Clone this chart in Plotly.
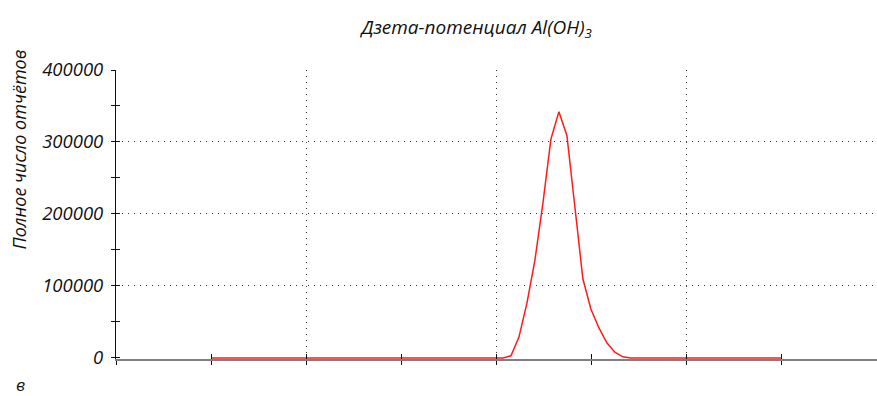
import plotly.graph_objects as go

# Data (zeta potential, mV; total counts)
zeta_mv = [-150, 3.4, 7.6, 11.8, 16.0, 20.2, 24.4, 28.6, 32.8, 37.0, 41.2,
           45.4, 49.6, 53.8, 58.0, 62.2, 66.4, 70.6, 150]
counts = [0, 0, 3000, 29000, 76000, 136000, 215000, 304000, 342000, 309000,
          210000, 110000, 68000, 42000, 21000, 8000, 1500, 0, 0]

y_ticks = [0, 100000, 200000, 300000, 400000]
y_tick_labels = ["0", "100000", "200000", "300000", "400000"]

title_text = "Дзета-потенциал Al(OH)<sub>3</sub>"
y_title = "Полное число отчётов"
panel_label = "в"

FONT = "Open Sans, Liberation Sans, Arial, sans-serif"
dot_dash = "1px,5px"
Y_RANGE = [-1500, 400000]

fig = go.Figure()
fig.add_trace(go.Scatter(x=zeta_mv, y=counts, mode="lines",
                         line=dict(color="#ff1a1a", width=1.5),
                         hoverinfo="skip", showlegend=False))
# overlay axes: inward half of the crossing ticks, and the dotted grid above zero
fig.add_trace(go.Scatter(x=[None], y=[None], xaxis="x2", yaxis="y2",
                         showlegend=False, hoverinfo="skip"))
fig.add_trace(go.Scatter(x=[None], y=[None], xaxis="x2", yaxis="y3",
                         showlegend=False, hoverinfo="skip"))

fig.update_layout(
    width=877, height=396,
    margin=dict(l=116, r=0, t=70, b=37),
    paper_bgcolor="white", plot_bgcolor="white",
    font=dict(family=FONT, color="#111", style="italic"),
    title=dict(text=title_text, x=0.474, xanchor="center", y=0.93, yanchor="middle",
               xref="paper", font=dict(size=19, family=FONT, style="italic", color="#111")),
    xaxis=dict(range=[-200, 200], showticklabels=False, ticks="outside", ticklen=4,
               tickcolor="#111", tickwidth=1, dtick=100, tick0=0,
               showgrid=True, gridcolor="#333", griddash=dot_dash, gridwidth=1.3,
               zeroline=False, layer="below traces",
               showline=True, linecolor="#808080", linewidth=2,
               minor=dict(dtick=50, tick0=0, ticks="outside", ticklen=4,
                          tickcolor="#111", showgrid=False)),
    xaxis2=dict(range=[-200, 200], overlaying="x", showticklabels=False,
                ticks="inside", ticklen=5, tickcolor="#111", tickwidth=1,
                dtick=50, tick0=0, showgrid=False, zeroline=False, showline=False),
    yaxis=dict(range=Y_RANGE, tickvals=y_ticks, ticktext=y_tick_labels,
               ticks="outside", ticklen=4, tickcolor="#111", tickwidth=1,
               ticklabelstandoff=4,
               tickfont=dict(size=18.5, family=FONT, style="italic", color="#111"),
               showgrid=False, zeroline=False,
               showline=True, linecolor="#111", linewidth=1,
               layer="below traces",
               minor=dict(dtick=50000, tick0=0, ticks="outside", ticklen=4,
                          tickcolor="#111", showgrid=False)),
    yaxis2=dict(range=Y_RANGE, overlaying="y", showticklabels=False,
                ticks="inside", ticklen=4, tickcolor="#111", dtick=50000, tick0=0,
                showgrid=False, zeroline=False, showline=False),
    yaxis3=dict(range=Y_RANGE, overlaying="y", showticklabels=False, ticks="",
                tickvals=y_ticks[1:], showgrid=True, gridcolor="#333",
                griddash=dot_dash, gridwidth=1.3, zeroline=False, showline=False),
)

fig.add_annotation(text=y_title, xref="paper", yref="paper", x=-0.127, y=0.726,
                   textangle=-90, showarrow=False, xanchor="center", yanchor="middle",
                   font=dict(size=18, family=FONT, style="italic", color="#111"))
fig.add_annotation(text=panel_label, xref="paper", yref="paper", x=-0.126, y=-0.088,
                   showarrow=False, xanchor="center", yanchor="middle",
                   font=dict(size=17, family=FONT, style="italic", color="#111"))

fig.write_html("out.html", config={"displayModeBar": False},
               post_script="document.body.style.margin='0';document.body.style.overflow='hidden';")
